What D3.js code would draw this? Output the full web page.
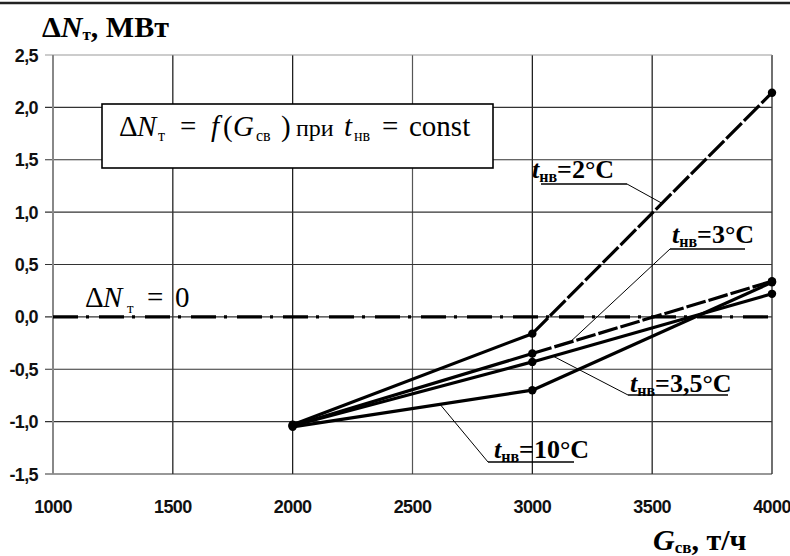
<!DOCTYPE html>
<html>
<head>
<meta charset="utf-8">
<script src="https://cdn.jsdelivr.net/npm/d3@7"></script>
<style>
  body { margin: 0; background: #fff; }
  .tick-lbl { font-family: "Liberation Sans", Arial, sans-serif; font-weight: bold; font-size: 18px; letter-spacing: -0.6px; fill: #111; }
  .serif { font-family: "Liberation Serif", "Times New Roman", serif; fill: #000; }
</style>
</head>
<body>
<svg class="chart" width="790" height="556"></svg>
<script>
// data
var flowG = [2000, 3000, 4000];
var dN_t2 = [-1.03, -0.16, 2.14];
var dN_t3 = [-1.04, -0.35, 0.34];
var dN_t35 = [-1.04, -0.43, 0.22];
var dN_t10 = [-1.05, -0.70, 0.33];
var seriesNames = ["2°C", "3°C", "3,5°C", "10°C"];
var xTicks = [1000, 1500, 2000, 2500, 3000, 3500, 4000];
var yTicks = [-1.5, -1.0, -0.5, 0.0, 0.5, 1.0, 1.5, 2.0, 2.5];

var W = 790, H = 556;
var svg = d3.select(".chart");
var x = d3.scaleLinear().domain([1000, 4000]).range([53, 772]);
var y = d3.scaleLinear().domain([-1.5, 2.5]).range([474, 55]);
var fmt = function(v) { return d3.format(".1f")(v).replace(".", ",").replace("−", "-"); };

// frame line at very top
svg.append("line").attr("x1", 0).attr("x2", W).attr("y1", 3).attr("y2", 3)
    .attr("stroke", "#222").attr("stroke-width", 2.5);

// grid
var grid = svg.append("g");
grid.selectAll(".vg").data(xTicks.slice(1)).enter().append("line")
    .attr("x1", x).attr("x2", x).attr("y1", y(2.5)).attr("y2", y(-1.5))
    .attr("stroke", function(d) { return d === 2500 ? "#555" : "#111"; }).attr("stroke-width", 1.2);
grid.selectAll(".hg").data(yTicks).enter().append("line")
    .attr("x1", x(1000) - 8).attr("x2", x(4000)).attr("y1", y).attr("y2", y)
    .attr("stroke", function(d) { return (d === 2.5) ? "#999" : "#333"; }).attr("stroke-width", 1.2);
svg.append("line").attr("x1", x(1000)).attr("x2", x(1000)).attr("y1", y(2.5)).attr("y2", y(-1.5))
    .attr("stroke", "#888").attr("stroke-width", 2);

// tick labels
svg.selectAll(".yl").data(yTicks).enter().append("text")
    .attr("class", "tick-lbl").attr("x", 38).attr("y", function(d) { return y(d) + 6.5; })
    .attr("text-anchor", "end").text(fmt);
svg.selectAll(".xl").data(xTicks).enter().append("text")
    .attr("class", "tick-lbl").attr("x", x).attr("y", 513)
    .attr("text-anchor", "middle").text(function(d) { return d; });

// zero reference line (dash-dot)
svg.append("line").attr("x1", x(1000)).attr("x2", x(4000)).attr("y1", y(0)).attr("y2", y(0))
    .attr("stroke", "#000").attr("stroke-width", 3.2).attr("stroke-dasharray", "25,8,3,10");

// series
var allSeries = [dN_t2, dN_t3, dN_t35, dN_t10];
var tailDash = ["22,3", "20,3", null, null];
var line = d3.line().x(function(d) { return x(d[0]); }).y(function(d) { return y(d[1]); });
var plot = svg.append("g");
allSeries.forEach(function(vals, i) {
    var pts = flowG.map(function(g, k) { return [g, vals[k]]; });
    plot.append("path").attr("d", line(pts.slice(0, 2)))
        .attr("fill", "none").attr("stroke", "#000").attr("stroke-width", 3.2);
    plot.append("path").attr("d", line(pts.slice(1)))
        .attr("fill", "none").attr("stroke", "#000").attr("stroke-width", 3.2)
        .attr("stroke-dasharray", tailDash[i]);
    plot.selectAll(null).data(pts).enter().append("circle")
        .attr("cx", function(d) { return x(d[0]); }).attr("cy", function(d) { return y(d[1]); })
        .attr("r", 4.2).attr("fill", "#000");
});

function at(vals, g) {
    var k = g < flowG[1] ? 0 : 1;
    var t = (g - flowG[k]) / (flowG[k + 1] - flowG[k]);
    return vals[k] + t * (vals[k + 1] - vals[k]);
}

// series labels with leaders
var labels = [
    {s: 0, g: 3541, tx: 532, ty: 178, u0: 541, u1: 627, uy: 184, end: "right"},
    {s: 1, g: 3157, tx: 672, ty: 243, u0: 670, u1: 745, uy: 249, end: "left"},
    {s: 2, g: 3086, tx: 630, ty: 392, u0: 628, u1: 728, uy: 395, end: "left"},
    {s: 3, g: 2615, tx: 494, ty: 458, u0: 488, u1: 574, uy: 462, end: "left"}
];
labels.forEach(function(l) {
    var lx = l.end === "right" ? l.u1 : l.u0;
    svg.append("line").attr("x1", lx).attr("y1", l.uy)
        .attr("x2", x(l.g)).attr("y2", y(at(allSeries[l.s], l.g)))
        .attr("stroke", "#000").attr("stroke-width", 1);
    svg.append("line").attr("x1", l.u0).attr("x2", l.u1).attr("y1", l.uy).attr("y2", l.uy)
        .attr("stroke", "#000").attr("stroke-width", 1.6);
    var t = svg.append("text").attr("class", "serif").attr("x", l.tx).attr("y", l.ty)
        .attr("font-size", 26).attr("font-weight", "bold");
    t.append("tspan").attr("font-style", "italic").text("t");
    t.append("tspan").attr("font-size", 16).attr("dy", 4).text("нв");
    t.append("tspan").attr("dy", -4).text("=" + seriesNames[l.s]);
});

// formula box
svg.append("rect").attr("x", 102).attr("y", 104).attr("width", 391).attr("height", 64)
    .attr("fill", "#fff").attr("stroke", "#000").attr("stroke-width", 1.6);
var bt = svg.append("text").attr("class", "serif").attr("y", 136).attr("font-size", 29);
bt.append("tspan").attr("x", 119).text("Δ");
bt.append("tspan").attr("x", 137).attr("font-style", "italic").text("N");
bt.append("tspan").attr("x", 158).attr("y", 141).attr("font-size", 16).text("т");
bt.append("tspan").attr("x", 180).attr("y", 136).text("=");
bt.append("tspan").attr("x", 211).attr("font-style", "italic").text("f");
bt.append("tspan").attr("x", 223).text("(");
bt.append("tspan").attr("x", 233).attr("font-style", "italic").text("G");
bt.append("tspan").attr("x", 256).attr("y", 141).attr("font-size", 16).text("св");
bt.append("tspan").attr("x", 281).attr("y", 136).text(")");
bt.append("tspan").attr("x", 296).attr("font-size", 24).text("при");
bt.append("tspan").attr("x", 344).attr("font-style", "italic").text("t");
bt.append("tspan").attr("x", 354).attr("y", 141).attr("font-size", 16).text("нв");
bt.append("tspan").attr("x", 382).attr("y", 136).text("=");
bt.append("tspan").attr("x", 409).text("const");

// zero label
var zt = svg.append("text").attr("class", "serif").attr("y", 307).attr("font-size", 29);
zt.append("tspan").attr("x", 85).text("Δ");
zt.append("tspan").attr("x", 103).attr("font-style", "italic").text("N");
zt.append("tspan").attr("x", 127).attr("y", 313).attr("font-size", 15).text("т");
zt.append("tspan").attr("x", 147).attr("y", 307).text("=");
zt.append("tspan").attr("x", 175).text("0");

// axis titles
var yt = svg.append("text").attr("class", "serif").attr("x", 42).attr("y", 37)
    .attr("font-size", 30).attr("font-weight", "bold");
yt.append("tspan").text("Δ");
yt.append("tspan").attr("font-style", "italic").text("N");
yt.append("tspan").attr("font-size", 17).attr("dy", 3).text("т");
yt.append("tspan").attr("dy", -3).text(", МВт");

var xt = svg.append("text").attr("class", "serif").attr("x", 653).attr("y", 550)
    .attr("font-size", 30).attr("font-weight", "bold");
xt.append("tspan").attr("font-style", "italic").text("G");
xt.append("tspan").attr("font-size", 17).attr("dy", 3).text("св");
xt.append("tspan").attr("dy", -3).text(", т/ч");
</script>
</body>
</html>
